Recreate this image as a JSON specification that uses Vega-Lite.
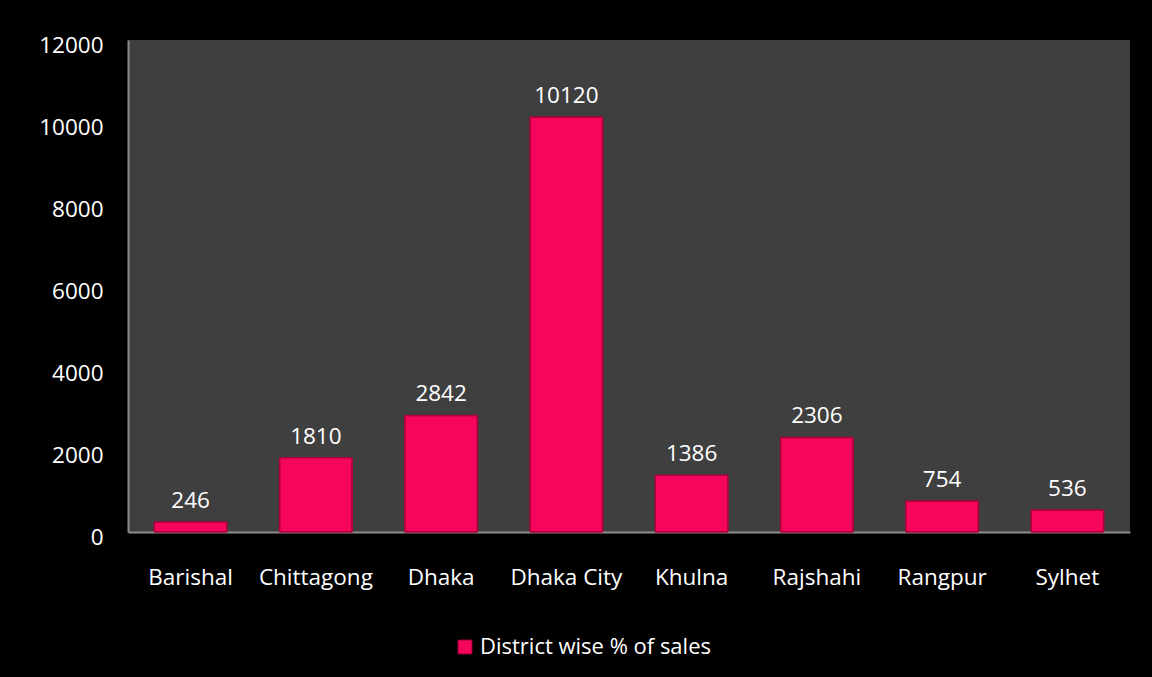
{
  "$schema": "https://vega.github.io/schema/vega-lite/v6.json",
  "autosize": "none",
  "width": 1002,
  "height": 492,
  "padding": {"left": 128, "top": 40, "right": 22, "bottom": 145},
  "background": "#000000",
  "config": {
    "view": {"fill": "#3f3f3f", "stroke": null},
    "font": "Open Sans"
  },
  "data": {
    "values": [
      {"district": "Barishal", "sales": 246},
      {"district": "Chittagong", "sales": 1810},
      {"district": "Dhaka", "sales": 2842},
      {"district": "Dhaka City", "sales": 10120},
      {"district": "Khulna", "sales": 1386},
      {"district": "Rajshahi", "sales": 2306},
      {"district": "Rangpur", "sales": 754},
      {"district": "Sylhet", "sales": 536}
    ]
  },
  "encoding": {
    "x": {
      "field": "district", "type": "nominal", "sort": null,
      "scale": {"paddingInner": 0.42, "paddingOuter": 0.21},
      "axis": {
        "title": null, "labelAngle": 0, "labelColor": "#ffffff", "labelFontSize": 22.5,
        "labelFont": "Open Sans", "ticks": false, "domainColor": "#8c8c8c", "domainWidth": 2,
        "labelPadding": 34, "grid": false
      }
    },
    "y": {
      "field": "sales", "type": "quantitative",
      "scale": {"domain": [0, 12000], "nice": false},
      "axis": {
        "title": null, "values": [0, 2000, 4000, 6000, 8000, 10000, 12000], "format": "d",
        "labelColor": "#ffffff", "labelOffset": 5,
        "labelFontSize": 22.5, "labelFont": "Open Sans", "ticks": false, "grid": false,
        "domainColor": "#8c8c8c", "domainWidth": 2, "labelPadding": 25
      }
    }
  },
  "layer": [
    {
      "mark": {"type": "bar", "stroke": "#b0003c", "strokeWidth": 1.5, "cornerRadius": 1},
      "encoding": {
        "color": {
          "datum": "District wise % of sales", "type": "nominal",
          "scale": {"range": ["#f5065c"]},
          "legend": {
            "title": null, "orient": "none", "legendX": 326, "legendY": 596,
            "labelColor": "#ffffff", "labelFontSize": 22, "labelFont": "Open Sans", "labelLimit": 400,
            "symbolType": "square", "symbolSize": 190, "symbolStrokeColor": "#b0003c", "symbolStrokeWidth": 1
          }
        }
      }
    },
    {
      "mark": {"type": "text", "baseline": "bottom", "dy": -9, "color": "#ffffff", "fontSize": 22.5, "font": "Open Sans"},
      "encoding": {"text": {"field": "sales", "type": "quantitative"}}
    }
  ]
}
